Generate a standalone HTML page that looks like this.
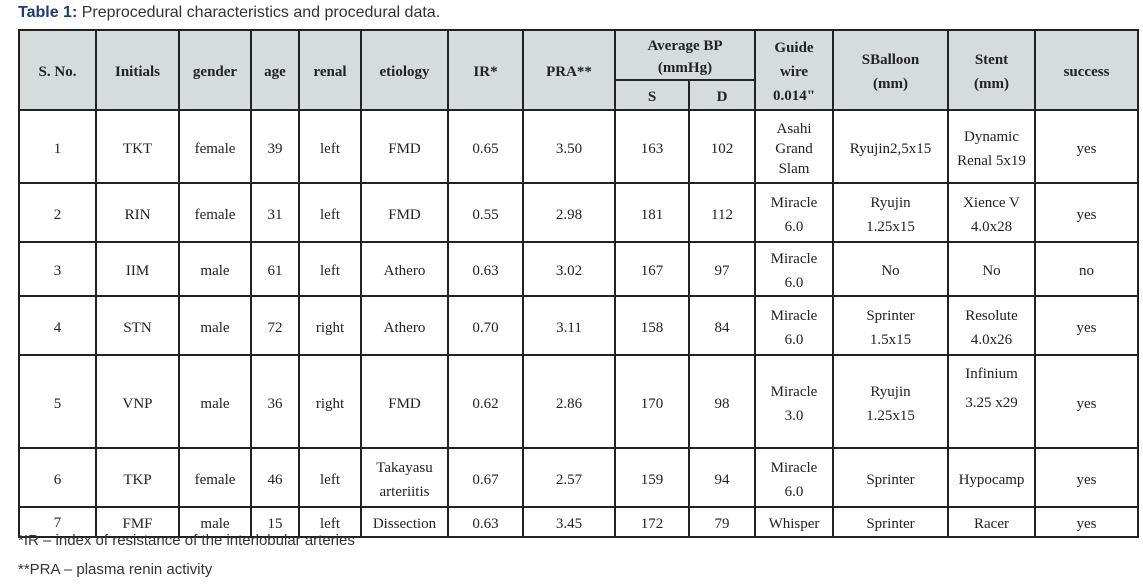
<!DOCTYPE html>
<html><head><meta charset="utf-8"><style>
body{margin:0;width:1143px;height:584px;background:#fff;position:relative;overflow:hidden}
.title{position:absolute;left:18px;top:4px;font:16px "Liberation Sans",sans-serif;color:#333}
.title b{color:#1f3a7a}
table{position:absolute;left:18px;top:29px;border-collapse:collapse;table-layout:fixed;width:1119px;font:15px "Liberation Serif",serif;color:#222}
td,th{border:2px solid #222;text-align:center;vertical-align:middle;padding:4px 2px 0 2px;line-height:24px}
th{background:#d6dcdc;font-weight:bold}
.fn{position:absolute;left:18px;font:15px "Liberation Sans",sans-serif;color:#333}
</style></head><body>
<div class="title"><b>Table 1:</b> Preprocedural characteristics and procedural data.</div>
<table>
<colgroup><col style="width:77px"><col style="width:83px"><col style="width:72px"><col style="width:48px"><col style="width:62px"><col style="width:87px"><col style="width:75px"><col style="width:92px"><col style="width:74px"><col style="width:66px"><col style="width:78px"><col style="width:115px"><col style="width:87px"><col style="width:103px"></colgroup>
<tr style="height:50px"><th rowspan="2">S. No.</th><th rowspan="2">Initials</th><th rowspan="2">gender</th><th rowspan="2">age</th><th rowspan="2">renal</th><th rowspan="2">etiology</th><th rowspan="2">IR*</th><th rowspan="2">PRA**</th><th colspan="2" style="line-height:22px">Average BP<br>(mmHg)</th><th rowspan="2">Guide<br>wire<br>0.014"</th><th rowspan="2">SBalloon<br>(mm)</th><th rowspan="2">Stent<br>(mm)</th><th rowspan="2">success</th></tr>
<tr style="height:29px"><th>S</th><th>D</th></tr>
<tr style="height:73px"><td>1</td><td>TKT</td><td>female</td><td>39</td><td>left</td><td>FMD</td><td>0.65</td><td>3.50</td><td>163</td><td>102</td><td style="line-height:20px">Asahi<br>Grand<br>Slam</td><td>Ryujin2,5x15</td><td>Dynamic<br>Renal 5x19</td><td>yes</td></tr>
<tr style="height:59px"><td>2</td><td>RIN</td><td>female</td><td>31</td><td>left</td><td>FMD</td><td>0.55</td><td>2.98</td><td>181</td><td>112</td><td>Miracle<br>6.0</td><td>Ryujin<br>1.25x15</td><td>Xience V<br>4.0x28</td><td>yes</td></tr>
<tr style="height:50px"><td>3</td><td>IIM</td><td>male</td><td>61</td><td>left</td><td>Athero</td><td>0.63</td><td>3.02</td><td>167</td><td>97</td><td>Miracle<br>6.0</td><td>No</td><td>No</td><td>no</td></tr>
<tr style="height:59px"><td>4</td><td>STN</td><td>male</td><td>72</td><td>right</td><td>Athero</td><td>0.70</td><td>3.11</td><td>158</td><td>84</td><td>Miracle<br>6.0</td><td>Sprinter<br>1.5x15</td><td>Resolute<br>4.0x26</td><td>yes</td></tr>
<tr style="height:88px"><td>5</td><td>VNP</td><td>male</td><td>36</td><td>right</td><td>FMD</td><td>0.62</td><td>2.86</td><td>170</td><td>98</td><td>Miracle<br>3.0</td><td>Ryujin<br>1.25x15</td><td style="line-height:29px">Infinium<br>3.25 x29<br>&nbsp;</td><td>yes</td></tr>
<tr style="height:59px"><td>6</td><td>TKP</td><td>female</td><td>46</td><td>left</td><td>Takayasu<br>arteriitis</td><td>0.67</td><td>2.57</td><td>159</td><td>94</td><td>Miracle<br>6.0</td><td>Sprinter</td><td>Hypocamp</td><td>yes</td></tr>
<tr style="height:29px"><td style="padding-top:2px">7</td><td>FMF</td><td>male</td><td>15</td><td>left</td><td>Dissection</td><td>0.63</td><td>3.45</td><td>172</td><td>79</td><td>Whisper</td><td>Sprinter</td><td>Racer</td><td>yes</td></tr>
</table>
<div class="fn" style="top:532px">*IR – index of resistance of the interlobular arteries</div>
<div class="fn" style="top:561px">**PRA – plasma renin activity</div>
</body></html>
